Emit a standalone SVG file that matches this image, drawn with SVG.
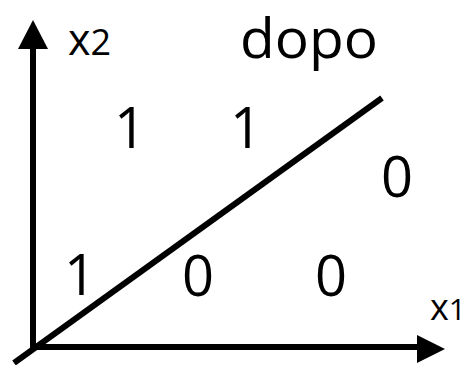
<svg xmlns="http://www.w3.org/2000/svg" width="468" height="365" viewBox="0 0 468 365">
<style>
.t{font-family:"Open Sans","DejaVu Sans",sans-serif;fill:#000}
.d{font-size:56px;text-anchor:middle}
.ln{stroke:#000;stroke-width:6;fill:none}
</style>
<rect width="468" height="365" fill="#fff"/>
<g id="connectors">
<line class="ln" x1="33" y1="350" x2="33" y2="46"/>
<polygon points="33,20 18,49 48,49"/>
<line class="ln" x1="30" y1="347" x2="420" y2="347"/>
<polygon points="445,349 417,335 417,363"/>
<line class="ln" x1="14" y1="363" x2="382" y2="98"/>
</g>
<g id="labels">
<text class="t" x="68" y="55"><tspan font-size="43">x</tspan><tspan font-size="36">2</tspan></text>
<text class="t" x="430" y="320"><tspan font-size="36">x</tspan><tspan font-size="30">1</tspan></text>
<text class="t" x="240" y="58" font-size="54" textLength="138" lengthAdjust="spacingAndGlyphs">dopo</text>
</g>
<g id="cells">
<text class="t d" x="130" y="148">1</text>
<text class="t d" x="246" y="148">1</text>
<text class="t d" x="397" y="197">0</text>
<text class="t d" x="80" y="295">1</text>
<text class="t d" x="198" y="296">0</text>
<text class="t d" x="331" y="296">0</text>
</g>
</svg>
